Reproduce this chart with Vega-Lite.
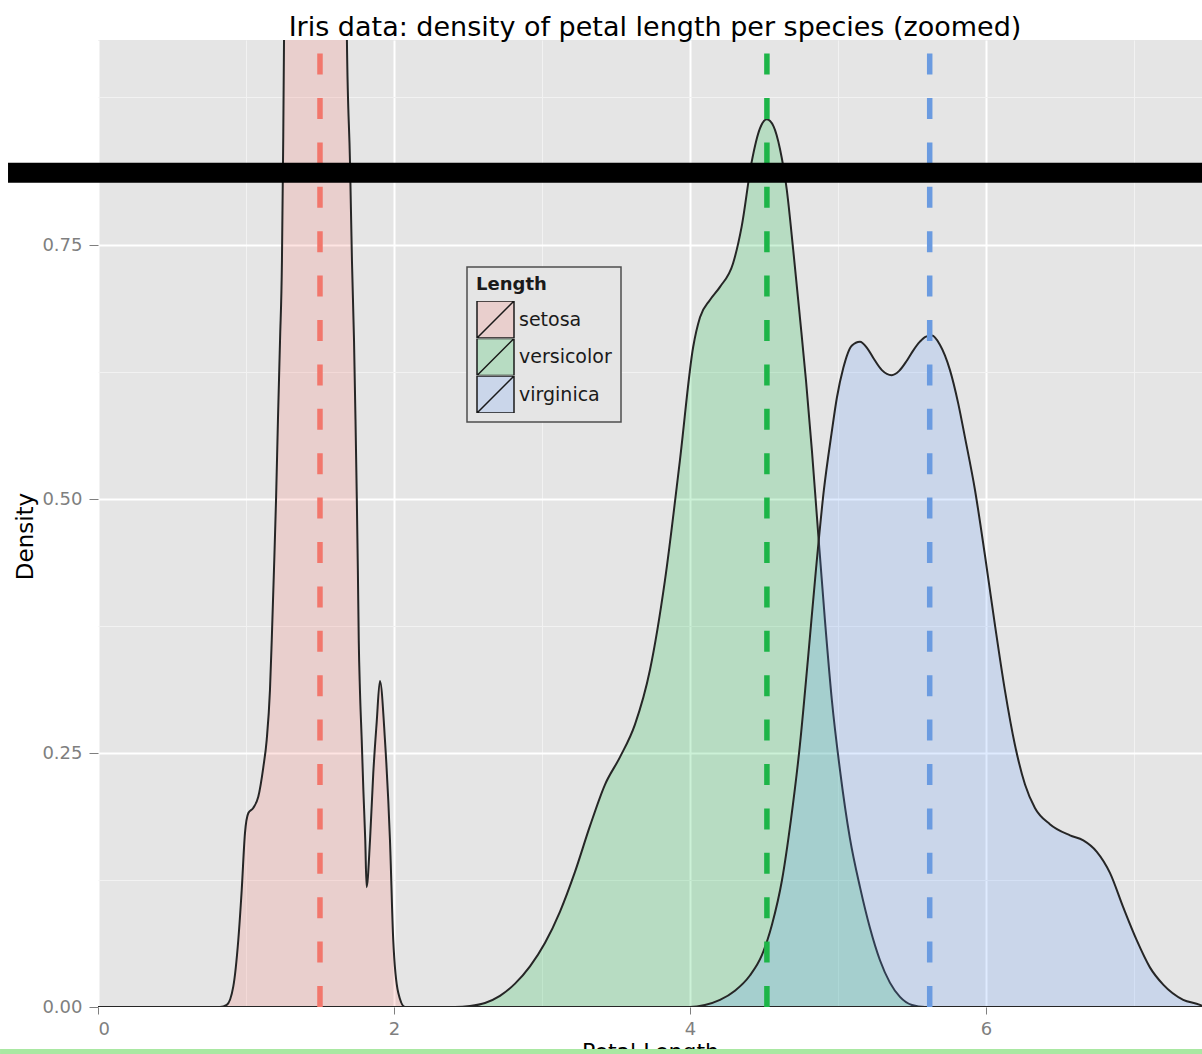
{
  "$schema": "https://vega.github.io/schema/vega-lite/v6.json",
  "width": 1104,
  "height": 967,
  "autosize": {"type": "none"},
  "padding": {"left": 98, "top": 40, "right": 0, "bottom": 47},
  "background": "white",
  "title": {
    "text": "Iris data: density of petal length per species (zoomed)",
    "font": "DejaVu Sans", "fontSize": 27, "fontWeight": "normal", "color": "#000000",
    "anchor": "middle", "frame": "group", "baseline": "bottom", "offset": -32, "dx": 5
  },
  "config": {
    "font": "DejaVu Sans",
    "view": {"fill": "#E5E5E5", "stroke": null}
  },
  "datasets": {
    "density": [
      {"species": "setosa", "x": 0, "y": 0},
      {"species": "setosa", "x": 0.824, "y": 0},
      {"species": "setosa", "x": 0.870, "y": 0.002},
      {"species": "setosa", "x": 0.914, "y": 0.020},
      {"species": "setosa", "x": 0.948, "y": 0.066},
      {"species": "setosa", "x": 0.971, "y": 0.115},
      {"species": "setosa", "x": 0.993, "y": 0.171},
      {"species": "setosa", "x": 1.016, "y": 0.191},
      {"species": "setosa", "x": 1.049, "y": 0.196},
      {"species": "setosa", "x": 1.083, "y": 0.207},
      {"species": "setosa", "x": 1.117, "y": 0.236},
      {"species": "setosa", "x": 1.140, "y": 0.263},
      {"species": "setosa", "x": 1.162, "y": 0.312},
      {"species": "setosa", "x": 1.174, "y": 0.361},
      {"species": "setosa", "x": 1.189, "y": 0.430},
      {"species": "setosa", "x": 1.203, "y": 0.499},
      {"species": "setosa", "x": 1.216, "y": 0.578},
      {"species": "setosa", "x": 1.230, "y": 0.656},
      {"species": "setosa", "x": 1.243, "y": 0.735},
      {"species": "setosa", "x": 1.250, "y": 0.831},
      {"species": "setosa", "x": 1.257, "y": 0.952},
      {"species": "setosa", "x": 1.260, "y": 1.05},
      {"species": "setosa", "x": 1.450, "y": 2.4},
      {"species": "setosa", "x": 1.676, "y": 1.05},
      {"species": "setosa", "x": 1.682, "y": 0.952},
      {"species": "setosa", "x": 1.703, "y": 0.831},
      {"species": "setosa", "x": 1.716, "y": 0.735},
      {"species": "setosa", "x": 1.730, "y": 0.656},
      {"species": "setosa", "x": 1.740, "y": 0.578},
      {"species": "setosa", "x": 1.749, "y": 0.499},
      {"species": "setosa", "x": 1.756, "y": 0.430},
      {"species": "setosa", "x": 1.762, "y": 0.361},
      {"species": "setosa", "x": 1.770, "y": 0.312},
      {"species": "setosa", "x": 1.782, "y": 0.263},
      {"species": "setosa", "x": 1.793, "y": 0.214},
      {"species": "setosa", "x": 1.806, "y": 0.164},
      {"species": "setosa", "x": 1.815, "y": 0.118},
      {"species": "setosa", "x": 1.838, "y": 0.164},
      {"species": "setosa", "x": 1.860, "y": 0.230},
      {"species": "setosa", "x": 1.883, "y": 0.280},
      {"species": "setosa", "x": 1.905, "y": 0.321},
      {"species": "setosa", "x": 1.939, "y": 0.263},
      {"species": "setosa", "x": 1.973, "y": 0.164},
      {"species": "setosa", "x": 1.995, "y": 0.066},
      {"species": "setosa", "x": 2.029, "y": 0.014},
      {"species": "setosa", "x": 2.074, "y": 0},
      {"species": "setosa", "x": 7.46, "y": 0},

      {"species": "versicolor", "x": 0, "y": 0},
      {"species": "versicolor", "x": 2.412, "y": 0},
      {"species": "versicolor", "x": 2.514, "y": 0.001},
      {"species": "versicolor", "x": 2.615, "y": 0.004},
      {"species": "versicolor", "x": 2.716, "y": 0.011},
      {"species": "versicolor", "x": 2.818, "y": 0.023},
      {"species": "versicolor", "x": 2.919, "y": 0.040},
      {"species": "versicolor", "x": 3.020, "y": 0.063},
      {"species": "versicolor", "x": 3.122, "y": 0.094},
      {"species": "versicolor", "x": 3.223, "y": 0.133},
      {"species": "versicolor", "x": 3.324, "y": 0.178},
      {"species": "versicolor", "x": 3.426, "y": 0.219},
      {"species": "versicolor", "x": 3.527, "y": 0.246},
      {"species": "versicolor", "x": 3.628, "y": 0.278},
      {"species": "versicolor", "x": 3.730, "y": 0.332},
      {"species": "versicolor", "x": 3.831, "y": 0.420},
      {"species": "versicolor", "x": 3.932, "y": 0.538},
      {"species": "versicolor", "x": 4.022, "y": 0.650},
      {"species": "versicolor", "x": 4.068, "y": 0.679},
      {"species": "versicolor", "x": 4.135, "y": 0.696},
      {"species": "versicolor", "x": 4.203, "y": 0.709},
      {"species": "versicolor", "x": 4.291, "y": 0.732},
      {"species": "versicolor", "x": 4.349, "y": 0.768},
      {"species": "versicolor", "x": 4.417, "y": 0.832},
      {"species": "versicolor", "x": 4.473, "y": 0.865},
      {"species": "versicolor", "x": 4.520, "y": 0.874},
      {"species": "versicolor", "x": 4.565, "y": 0.867},
      {"species": "versicolor", "x": 4.608, "y": 0.845},
      {"species": "versicolor", "x": 4.654, "y": 0.805},
      {"species": "versicolor", "x": 4.698, "y": 0.745},
      {"species": "versicolor", "x": 4.743, "y": 0.679},
      {"species": "versicolor", "x": 4.784, "y": 0.617},
      {"species": "versicolor", "x": 4.824, "y": 0.548},
      {"species": "versicolor", "x": 4.865, "y": 0.469},
      {"species": "versicolor", "x": 4.912, "y": 0.381},
      {"species": "versicolor", "x": 4.959, "y": 0.302},
      {"species": "versicolor", "x": 5.014, "y": 0.233},
      {"species": "versicolor", "x": 5.081, "y": 0.166},
      {"species": "versicolor", "x": 5.149, "y": 0.118},
      {"species": "versicolor", "x": 5.216, "y": 0.078},
      {"species": "versicolor", "x": 5.284, "y": 0.046},
      {"species": "versicolor", "x": 5.351, "y": 0.024},
      {"species": "versicolor", "x": 5.419, "y": 0.010},
      {"species": "versicolor", "x": 5.500, "y": 0.002},
      {"species": "versicolor", "x": 5.588, "y": 0},
      {"species": "versicolor", "x": 7.46, "y": 0},

      {"species": "virginica", "x": 0, "y": 0},
      {"species": "virginica", "x": 4.000, "y": 0},
      {"species": "virginica", "x": 4.101, "y": 0.002},
      {"species": "virginica", "x": 4.203, "y": 0.007},
      {"species": "virginica", "x": 4.304, "y": 0.016},
      {"species": "virginica", "x": 4.405, "y": 0.031},
      {"species": "virginica", "x": 4.486, "y": 0.051},
      {"species": "virginica", "x": 4.554, "y": 0.081},
      {"species": "virginica", "x": 4.622, "y": 0.125},
      {"species": "virginica", "x": 4.682, "y": 0.184},
      {"species": "virginica", "x": 4.743, "y": 0.258},
      {"species": "virginica", "x": 4.797, "y": 0.342},
      {"species": "virginica", "x": 4.851, "y": 0.430},
      {"species": "virginica", "x": 4.905, "y": 0.509},
      {"species": "virginica", "x": 4.957, "y": 0.565},
      {"species": "virginica", "x": 4.993, "y": 0.600},
      {"species": "virginica", "x": 5.036, "y": 0.629},
      {"species": "virginica", "x": 5.093, "y": 0.651},
      {"species": "virginica", "x": 5.149, "y": 0.655},
      {"species": "virginica", "x": 5.196, "y": 0.649},
      {"species": "virginica", "x": 5.239, "y": 0.639},
      {"species": "virginica", "x": 5.297, "y": 0.627},
      {"species": "virginica", "x": 5.363, "y": 0.622},
      {"species": "virginica", "x": 5.412, "y": 0.626},
      {"species": "virginica", "x": 5.464, "y": 0.636},
      {"species": "virginica", "x": 5.507, "y": 0.646},
      {"species": "virginica", "x": 5.554, "y": 0.655},
      {"species": "virginica", "x": 5.595, "y": 0.660},
      {"species": "virginica", "x": 5.635, "y": 0.661},
      {"species": "virginica", "x": 5.689, "y": 0.652},
      {"species": "virginica", "x": 5.757, "y": 0.627},
      {"species": "virginica", "x": 5.813, "y": 0.594},
      {"species": "virginica", "x": 5.858, "y": 0.561},
      {"species": "virginica", "x": 5.926, "y": 0.509},
      {"species": "virginica", "x": 5.993, "y": 0.445},
      {"species": "virginica", "x": 6.061, "y": 0.376},
      {"species": "virginica", "x": 6.128, "y": 0.312},
      {"species": "virginica", "x": 6.196, "y": 0.258},
      {"species": "virginica", "x": 6.264, "y": 0.219},
      {"species": "virginica", "x": 6.331, "y": 0.196},
      {"species": "virginica", "x": 6.432, "y": 0.180},
      {"species": "virginica", "x": 6.568, "y": 0.169},
      {"species": "virginica", "x": 6.658, "y": 0.164},
      {"species": "virginica", "x": 6.748, "y": 0.153},
      {"species": "virginica", "x": 6.838, "y": 0.132},
      {"species": "virginica", "x": 6.928, "y": 0.098},
      {"species": "virginica", "x": 7.018, "y": 0.066},
      {"species": "virginica", "x": 7.108, "y": 0.039},
      {"species": "virginica", "x": 7.198, "y": 0.022},
      {"species": "virginica", "x": 7.333, "y": 0.007},
      {"species": "virginica", "x": 7.446, "y": 0.002},
      {"species": "virginica", "x": 7.46, "y": 0.001}
    ],
    "centres": [
      {"species": "setosa", "x": 1.5},
      {"species": "versicolor", "x": 4.52},
      {"species": "virginica", "x": 5.62}
    ],
    "marker": [
      {"level": 0.8214, "from": -0.608, "to": 7.46}
    ],
    "footer": [
      {"level": -0.0438, "from": -0.662, "to": 7.46}
    ]
  },
  "layer": [
    {
      "data": {"name": "density"},
      "mark": {
        "type": "area", "fillOpacity": 0.2, "stroke": "#262626", "strokeWidth": 2,
        "interpolate": "monotone", "clip": true
      },
      "encoding": {
        "x": {
          "field": "x", "type": "quantitative",
          "scale": {"domain": [0, 7.46], "nice": false, "zero": false},
          "axis": {
            "title": "Petal.Length",
            "values": [0, 1, 2, 3, 4, 5, 6, 7],
            "domain": false,
            "grid": true,
            "gridColor": {"condition": {"test": "datum.value % 2 === 1", "value": "#F2F2F2"}, "value": "#FFFFFF"},
            "gridWidth": {"condition": {"test": "datum.value % 2 === 1", "value": 1}, "value": 2},
            "tickColor": "#7F7F7F",
            "tickOpacity": {"condition": {"test": "datum.value % 2 === 1", "value": 0}, "value": 1},
            "tickSize": 7,
            "labelExpr": "datum.value % 2 === 0 ? format(datum.value, 'd') : ''",
            "labelColor": "#7F7F7F",
            "labelFont": "DejaVu Sans",
            "labelFontSize": 18,
            "labelPadding": 6,
            "titleFont": "DejaVu Sans",
            "titleFontSize": 22,
            "titleFontWeight": "normal",
            "titleColor": "#000000",
            "titlePadding": 3
          }
        },
        "y": {
          "field": "y", "type": "quantitative", "stack": null,
          "scale": {"domain": [0, 0.952], "nice": false, "zero": false},
          "axis": {
            "title": "Density",
            "values": [0, 0.125, 0.25, 0.375, 0.5, 0.625, 0.75, 0.896],
            "domain": false,
            "grid": true,
            "gridColor": {"condition": {"test": "indexof([0, 0.25, 0.5, 0.75], datum.value) < 0", "value": "#F2F2F2"}, "value": "#FFFFFF"},
            "gridWidth": {"condition": {"test": "indexof([0, 0.25, 0.5, 0.75], datum.value) < 0", "value": 1}, "value": 2},
            "tickColor": "#7F7F7F",
            "tickOpacity": {"condition": {"test": "indexof([0, 0.25, 0.5, 0.75], datum.value) < 0", "value": 0}, "value": 1},
            "tickSize": 9,
            "labelExpr": "indexof([0, 0.25, 0.5, 0.75], datum.value) >= 0 ? format(datum.value, '.2f') : ''",
            "labelColor": "#7F7F7F",
            "labelFont": "DejaVu Sans",
            "labelFontSize": 18,
            "labelPadding": 7,
            "titleFont": "DejaVu Sans",
            "titleFontSize": 23,
            "titleFontWeight": "normal",
            "titleColor": "#000000",
            "titlePadding": 4,
            "titleY": 496
          }
        },
        "fill": {
          "field": "species", "type": "nominal",
          "scale": {"domain": ["setosa", "versicolor", "virginica"], "range": ["#F8766D", "#00BA38", "#619CFF"]},
          "legend": {
            "title": "Length",
            "orient": "none",
            "legendX": 369,
            "legendY": 227,
            "padding": 9,
            "fillColor": "#E5E5E5",
            "strokeColor": "#4D4D4D",
            "titleFont": "DejaVu Sans",
            "titleFontSize": 18,
            "titleFontWeight": "bold",
            "titleColor": "#1A1A1A",
            "titlePadding": 7,
            "labelFont": "DejaVu Sans",
            "labelFontSize": 19,
            "labelColor": "#1A1A1A",
            "labelOffset": 4,
            "rowPadding": 0.5,
            "clipHeight": 37,
            "symbolType": "M-1,-1H1V1H-1Z M-1,1L1,-1",
            "symbolSize": 1369,
            "symbolStrokeWidth": 1.5,
            "symbolStrokeColor": "#1A1A1A",
            "encode": {
              "symbols": {"update": {"fillOpacity": {"value": 0.2}, "stroke": {"value": "#1A1A1A"}, "strokeWidth": {"value": 1.5}}},
              "legend": {"update": {"strokeWidth": {"value": 1.5}}}
            }
          }
        }
      }
    },
    {
      "data": {"name": "centres"},
      "mark": {"type": "rule", "strokeWidth": 5.5, "strokeDash": [21, 23.4]},
      "encoding": {
        "x": {"field": "x", "type": "quantitative"},
        "y": {"datum": 0},
        "y2": {"datum": 0.952},
        "stroke": {
          "field": "species", "type": "nominal",
          "scale": {"domain": ["setosa", "versicolor", "virginica"], "range": ["#F2776C", "#1DB548", "#6B9BE0"]},
          "legend": null
        }
      }
    },
    {
      "data": {"name": "marker"},
      "mark": {"type": "rule", "strokeWidth": 20, "color": "#000000", "clip": false},
      "encoding": {
        "x": {"field": "from", "type": "quantitative"},
        "x2": {"field": "to"},
        "y": {"field": "level", "type": "quantitative"}
      }
    },
    {
      "data": {"name": "footer"},
      "mark": {"type": "rule", "strokeWidth": 5, "color": "#A9E8A2", "clip": false},
      "encoding": {
        "x": {"field": "from", "type": "quantitative"},
        "x2": {"field": "to"},
        "y": {"field": "level", "type": "quantitative"}
      }
    }
  ],
  "resolve": {"scale": {"stroke": "independent"}}
}
